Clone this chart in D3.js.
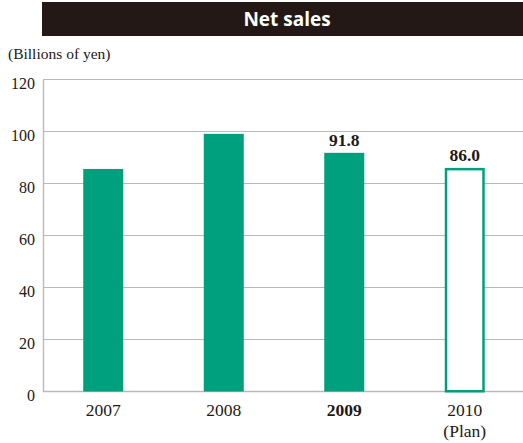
<!DOCTYPE html>
<html>
<head>
<meta charset="utf-8">
<script src="https://cdn.jsdelivr.net/npm/d3@7"></script>
<style>
  html, body { margin: 0; padding: 0; background: #ffffff; }
  svg { display: block; }
</style>
</head>
<body>
<svg id="chart" width="523" height="443"></svg>
<script>
// Net sales, billions of yen
const years = ["2007", "2008", "2009", "2010"];
const subLabels = ["", "", "", "(Plan)"];
const sales = [85.6, 99.1, 91.8, 86.0];
const isPlan = [false, false, false, true];
const valueLabels = ["", "", "91.8", "86.0"];
const boldYear = ["2009"];
const yTicks = [0, 20, 40, 60, 80, 100, 120];

const W = 523, H = 443;
const plotLeft = 43, plotRight = 523, plotTop = 79.5, plotBottom = 391.5;
const ink = "#231815";
const green = "#009f7d";
const grid = "#b9b9b9";
const serif = "'Liberation Serif', 'Times New Roman', serif";

const svg = d3.select("#chart");

// Title banner
svg.append("rect")
  .attr("x", 42).attr("y", 2).attr("width", W - 42).attr("height", 34)
  .attr("fill", ink);
svg.append("text")
  .attr("x", 287).attr("y", 26)
  .attr("text-anchor", "middle")
  .attr("font-family", "'Open Sans', 'Noto Sans', sans-serif")
  .attr("font-weight", 700)
  .attr("font-size", 19)
  .attr("fill", "#ffffff")
  .text("Net sales");

// Unit label
svg.append("text")
  .attr("x", 8).attr("y", 59)
  .attr("font-family", serif)
  .attr("font-size", 15.5)
  .attr("fill", ink)
  .text("(Billions of yen)");

const y = d3.scaleLinear().domain([0, 120]).range([plotBottom, plotTop]);
const x = d3.scaleBand().domain(years).range([plotLeft, 525])
  .paddingInner(0.668).paddingOuter(0.334);

// Horizontal gridlines
svg.append("g").selectAll("line")
  .data(yTicks.filter(d => d > 0))
  .join("line")
  .attr("x1", plotLeft).attr("x2", plotRight)
  .attr("y1", d => y(d)).attr("y2", d => y(d))
  .attr("stroke", grid).attr("stroke-width", 1.2);

// Baseline
svg.append("line")
  .attr("x1", plotLeft).attr("x2", plotRight)
  .attr("y1", y(0)).attr("y2", y(0))
  .attr("stroke", grid).attr("stroke-width", 1.6);

// Y axis with labels
const yAxis = d3.axisLeft(y).tickValues(yTicks).tickSize(0).tickPadding(8);
const yg = svg.append("g").attr("transform", `translate(${plotLeft},0)`).call(yAxis);
yg.select(".domain").attr("stroke", grid).attr("stroke-width", 1.4);
yg.selectAll("text")
  .attr("font-family", serif)
  .attr("font-size", 16)
  .attr("fill", ink)
  .attr("dy", "0.85em")
  .attr("transform", "translate(0,-5)");

// Bars
svg.append("g").selectAll("rect")
  .data(years)
  .join("rect")
  .each(function(d, i) {
    const r = d3.select(this);
    const bx = x(d), bw = x.bandwidth();
    if (isPlan[i]) {
      r.attr("x", bx + 1.25).attr("y", y(sales[i]) + 1.25)
        .attr("width", bw - 2.5).attr("height", y(0) - y(sales[i]) - 1.5)
        .attr("fill", "#ffffff").attr("stroke", green).attr("stroke-width", 2.5);
    } else {
      r.attr("x", bx).attr("y", y(sales[i]))
        .attr("width", bw).attr("height", y(0) - y(sales[i]))
        .attr("fill", green);
    }
  });

// Value labels
svg.append("g").selectAll("text")
  .data(years)
  .join("text")
  .attr("x", d => x(d) + x.bandwidth() / 2)
  .attr("y", (d, i) => y(sales[i]) - 7)
  .attr("text-anchor", "middle")
  .attr("font-family", serif)
  .attr("font-weight", 700)
  .attr("font-size", 17.5)
  .attr("fill", ink)
  .text((d, i) => valueLabels[i]);

// Category labels
const xl = svg.append("g");
xl.selectAll("text.year")
  .data(years)
  .join("text")
  .attr("class", "year")
  .attr("x", d => x(d) + x.bandwidth() / 2)
  .attr("y", 416)
  .attr("text-anchor", "middle")
  .attr("font-family", serif)
  .attr("font-size", 17.5)
  .attr("font-weight", d => boldYear.includes(d) ? 700 : 400)
  .attr("fill", ink)
  .text(d => d);
xl.selectAll("text.sub")
  .data(years)
  .join("text")
  .attr("class", "sub")
  .attr("x", d => x(d) + x.bandwidth() / 2)
  .attr("y", 437)
  .attr("text-anchor", "middle")
  .attr("font-family", serif)
  .attr("font-size", 17.5)
  .attr("fill", ink)
  .text((d, i) => subLabels[i]);
</script>
</body>
</html>
